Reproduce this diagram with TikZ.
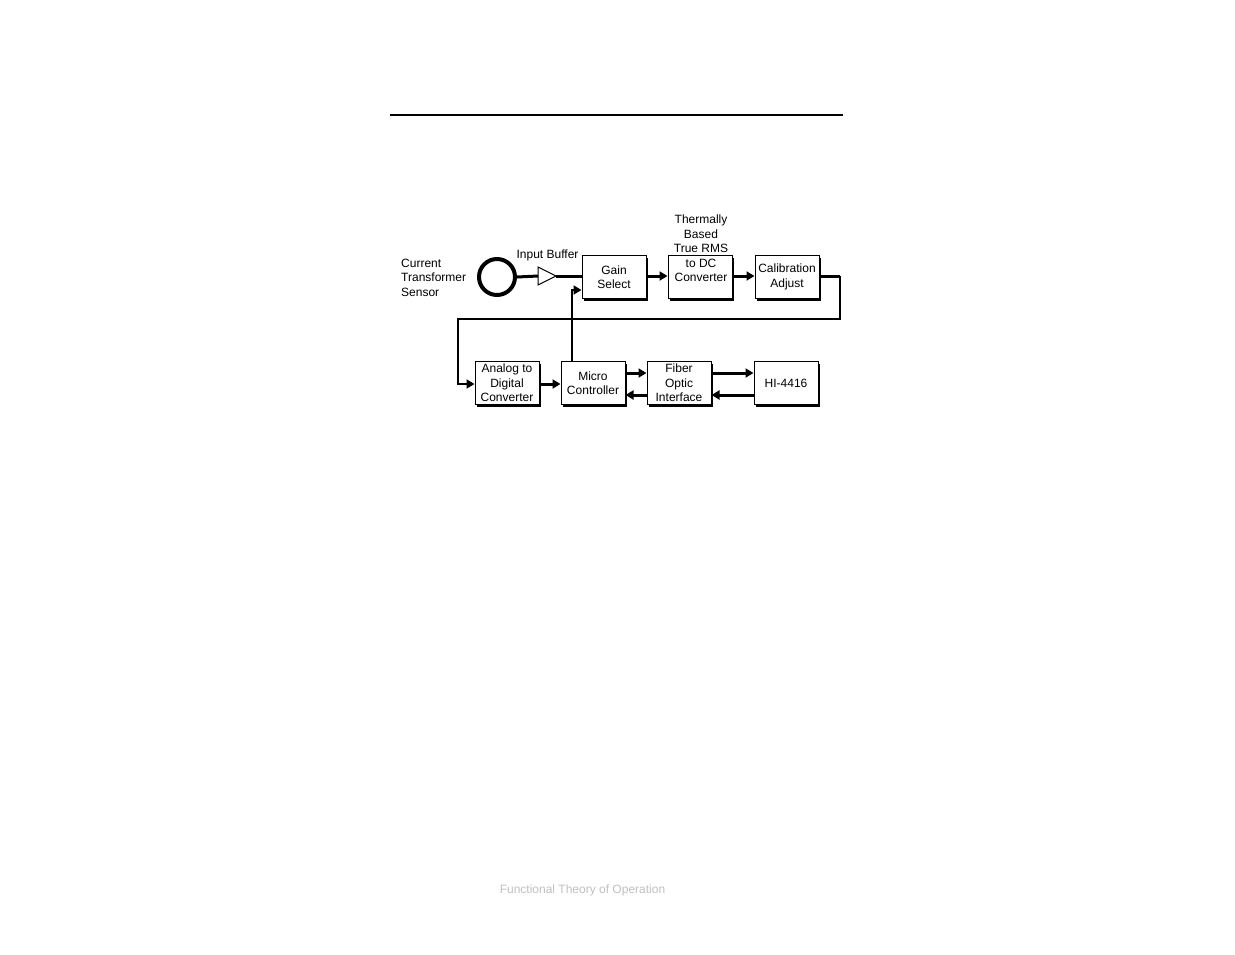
\documentclass[tikz,border=0pt]{standalone}
\usepackage{fontspec}
\setmainfont{Liberation Sans}
\usetikzlibrary{arrows.meta,shadows,calc}
\begin{document}
\begin{tikzpicture}[x=1pt,y=-1pt,
  txt/.style={font=\fontsize{12}{14.5}\selectfont, align=center, inner sep=0pt},
  blk/.style={draw, line width=1pt, fill=white, minimum width=64pt, minimum height=43pt, inner sep=0pt,
    font=\fontsize{12}{14.5}\selectfont, align=center,
    drop shadow={shadow xshift=2.2pt, shadow yshift=-2.2pt, opacity=1, fill=black}},
  thk/.style={line width=3pt},
  fb/.style={line width=2pt},
  arr/.style={-{Triangle[length=8pt,width=9pt]}},
]
\path[use as bounding box] (0,0) rectangle (1235,954);
% top rule
\coordinate (r1) at (390,115);
\coordinate (r2) at (843,115);
\draw[line width=2pt] (r1) -- (r2);

% sensor
\node[txt, align=left, anchor=west] (ctlab) at (401,277.5) {Current\\Transformer\\Sensor};
\node[circle, draw, line width=4pt, minimum size=36pt, inner sep=0pt] (ct) at (497,277) {};

% input buffer
\coordinate (bufin) at (538,276);
\coordinate (bufout) at (556,276);
\draw[line width=1pt, fill=white] (538,267) -- (bufout) -- (538,285) -- cycle;
\node[txt] (buflab) at (547.5,255) {Input Buffer};

% row 1
\node[blk] (gain) at (614,277) {Gain\\Select};
\node[blk] (rms) at (700,277) {};
\node[txt] (rmslab) at (701,248.5) {Thermally\\Based\\True RMS\\to DC\\Converter};
\node[blk] (cal) at (787,277) {Calibration\\Adjust};

% row 2
\node[blk] (adc) at (507,383) {Analog to\\Digital\\Converter};
\node[blk] (mcu) at (593,383) {Micro\\Controller};
\node[blk] (foi) at (679,383) {Fiber\\Optic\\Interface};
\node[blk] (hi) at (786,383) {HI-4416};

% connectors row 1
\draw[thk] (ct.east) -- (bufin);
\draw[thk] (bufout) -- (gain.west |- bufout);
\draw[thk, arr] (gain.east |- bufout) -- (rms.west |- bufout);
\draw[thk, arr] (rms.east |- bufout) -- (cal.west |- bufout);

% loop from calibration to ADC
\coordinate (l1) at (840,276);
\coordinate (l2) at (840,319);
\coordinate (l3) at (458,319);
\coordinate (l4) at (458,384);
\draw[thk] (cal.east |- l1) -- (l1);
\draw[fb, arr] (l1) -- (l2) -- (l3) -- (l4) -- (adc.west |- l4);

% ADC to micro
\draw[thk, arr] (adc.east |- l4) -- (mcu.west |- l4);

% feedback micro to gain
\coordinate (f1) at (572,290);
\draw[fb, arr] (mcu.north -| f1) -- (f1) -- (gain.west |- f1);

% micro <-> fiber <-> HI
\coordinate (yu) at (0,373);
\coordinate (yd) at (0,395);
\draw[thk, arr] (mcu.east |- yu) -- (foi.west |- yu);
\draw[thk, arr] (foi.west |- yd) -- (mcu.east |- yd);
\draw[thk, arr] (foi.east |- yu) -- (hi.west |- yu);
\draw[thk, arr] (hi.west |- yd) -- (foi.east |- yd);

% footer
\node[txt, text=black!25] (foot) at (582.5,890) {Functional Theory of Operation};
\end{tikzpicture}
\end{document}
